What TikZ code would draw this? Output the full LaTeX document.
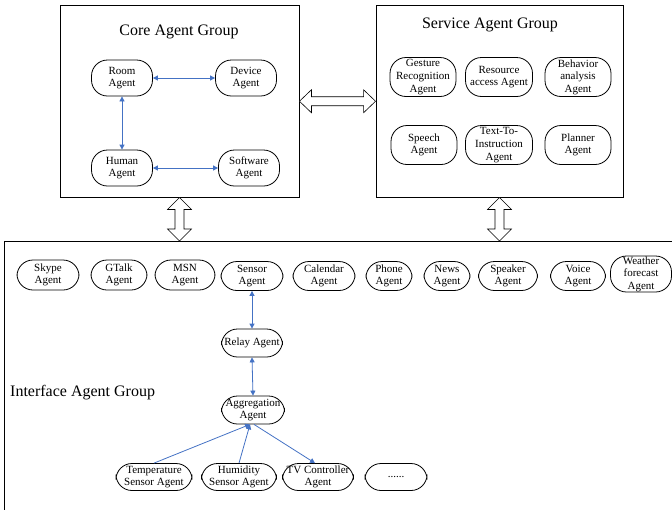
\documentclass[tikz,border=0pt]{standalone}
\usepackage{fontspec}
\setmainfont{Liberation Serif}
\usepackage{tikz}
\usetikzlibrary{arrows.meta,positioning,calc}
\definecolor{agentblue}{RGB}{68,114,196}
\tikzset{
	groupbox/.style={draw, line width=0.9pt, inner sep=0pt},
	agent/.style={draw, rounded corners=16pt, align=center, inner sep=0pt,
		line width=0.8pt, font=\fontsize{11}{12.6}\selectfont},
	grouptitle/.style={font=\fontsize{16}{18}\selectfont, inner sep=0pt},
	link/.style={{Triangle[length=5pt,width=5pt]}-{Triangle[length=5pt,width=5pt]},
		agentblue, line width=0.8pt},
	uplink/.style={-{Triangle[length=5pt,width=5pt]}, agentblue, line width=0.8pt},
	blockarrow/.style={draw, fill=white, line width=0.6pt, line join=miter}
}
\begin{document}
\begin{tikzpicture}[x=1pt, y=-1pt]
	\useasboundingbox (0,0) rectangle (672,509);
	\clip (0,0) rectangle (672,509);
	
	%% -- Group boxes
	\node[groupbox, minimum width=239pt, minimum height=191.5pt] (core) at (179.5,101.25) {};
	\node[groupbox, minimum width=247pt, minimum height=191.5pt] (service) at (499.5,101.25) {};
	\node[groupbox, anchor=north west, minimum width=700pt, minimum height=300pt] (iface) at (4,241) {};
	
	\node[grouptitle] (coretitle) at (179,32) {Core Agent Group};
	\node[grouptitle] (servicetitle) at (490,25) {Service Agent Group};
	\node[grouptitle, anchor=west] (ifacetitle) at (10,393) {Interface Agent Group};
	
	%% -- Core agents
	\node[agent, minimum width=61pt, minimum height=36pt] (room) at (122,78) {Room\\Agent};
	\node[agent, minimum width=61pt, minimum height=36pt] (device) at (246,78) {Device\\Agent};
	\node[agent, minimum width=61pt, minimum height=36pt] (human) at (122,168) {Human\\Agent};
	\node[agent, minimum width=61pt, minimum height=36pt] (software) at (249,168) {Software\\Agent};
	
	\draw[link] (room.east) -- (device.west);
	\draw[link] (room.south) -- (human.north);
	\draw[link] (human.east) -- (software.west);
	
	%% -- Service agents
	\node[agent, minimum width=66pt, minimum height=39pt] (gesture) at (423,77) {Gesture\\Recognition\\Agent};
	\node[agent, minimum width=67pt, minimum height=39pt] (resource) at (499,77) {Resource\\access Agent};
	\node[agent, minimum width=66pt, minimum height=39pt] (behavior) at (578,77) {Behavior\\analysis\\Agent};
	\node[agent, minimum width=66pt, minimum height=39pt] (speech) at (424,145) {Speech\\Agent};
	\node[agent, minimum width=67pt, minimum height=39pt] (texttoinst) at (499,145) {Text-To-\\Instruction\\Agent};
	\node[agent, minimum width=66pt, minimum height=39pt] (planner) at (578,145) {Planner\\Agent};
	
	%% -- Interface agents (top row)
	\node[agent, minimum width=62pt, minimum height=30pt] (skype) at (48,275) {Skype\\Agent};
	\node[agent, minimum width=56pt, minimum height=30pt] (gtalk) at (119,275) {GTalk\\Agent};
	\node[agent, minimum width=60pt, minimum height=30pt] (msn) at (185,275) {MSN\\Agent};
	\node[agent, minimum width=62pt, minimum height=29pt] (sensor) at (252,276) {Sensor\\Agent};
	\node[agent, minimum width=62pt, minimum height=29pt] (calendar) at (324,276) {Calendar\\Agent};
	\node[agent, minimum width=46pt, minimum height=29pt] (phone) at (389,276) {Phone\\Agent};
	\node[agent, minimum width=46pt, minimum height=29pt] (news) at (447,276) {News\\Agent};
	\node[agent, minimum width=59pt, minimum height=29pt] (speaker) at (508,276) {Speaker\\Agent};
	\node[agent, minimum width=55pt, minimum height=29pt] (voice) at (578,276) {Voice\\Agent};
	\node[agent, minimum width=61pt, minimum height=36pt] (weather) at (641,274) {Weather\\forecast\\Agent};
	
	%% -- Sensor chain
	\node[agent, minimum width=61pt, minimum height=28pt] (relay) at (252,343) {Relay Agent};
	\node[agent, minimum width=63pt, minimum height=28pt] (aggregation) at (253,410) {Aggregation\\Agent};
	\node[agent, minimum width=76pt, minimum height=27pt] (temperature) at (154,477) {Temperature\\Sensor Agent};
	\node[agent, minimum width=75pt, minimum height=27pt] (humidity) at (239,477) {Humidity\\Sensor Agent};
	\node[agent, minimum width=71pt, minimum height=27pt] (tvcontrol) at (318,477) {TV Controller\\Agent};
	\node[agent, minimum width=62pt, minimum height=27pt] (more) at (396,477) {......};
	
	\draw[link] (sensor.south) -- (relay.north);
	\draw[link] (relay.south) -- (aggregation.north);
	\draw[uplink] (temperature.north) -- ($(aggregation.south)+(-3,0)$);
	\draw[uplink] (humidity.north) -- ($(aggregation.south)+(-3,0)$);
	\draw[uplink] ($(aggregation.south)+(1,0)$) -- ($(tvcontrol.north)+(-3,0)$);
	
	%% -- Block arrows between groups
	\draw[blockarrow] (core.east) -- ++(12,-11.5) -- ++(0,7)
	-- ($(service.west)+(-12,-4.5)$) -- ++(0,-7) -- (service.west)
	-- ++(-12,11.5) -- ++(0,-7) -- ($(core.east)+(12,4.5)$) -- ++(0,7) -- cycle;
	
	\draw[blockarrow] (core.south) -- ++(12,12) -- ++(-7.5,0)
	-- ($(core.south |- iface.north)+(4.5,-12)$) -- ++(7.5,0) -- (core.south |- iface.north)
	-- ++(-12,-12) -- ++(7.5,0) -- ($(core.south)+(-4.5,12)$) -- ++(-7.5,0) -- cycle;
	
	\draw[blockarrow] (service.south) -- ++(12,12) -- ++(-7.5,0)
	-- ($(service.south |- iface.north)+(4.5,-12)$) -- ++(7.5,0) -- (service.south |- iface.north)
	-- ++(-12,-12) -- ++(7.5,0) -- ($(service.south)+(-4.5,12)$) -- ++(-7.5,0) -- cycle;
	
\end{tikzpicture}
\end{document}
